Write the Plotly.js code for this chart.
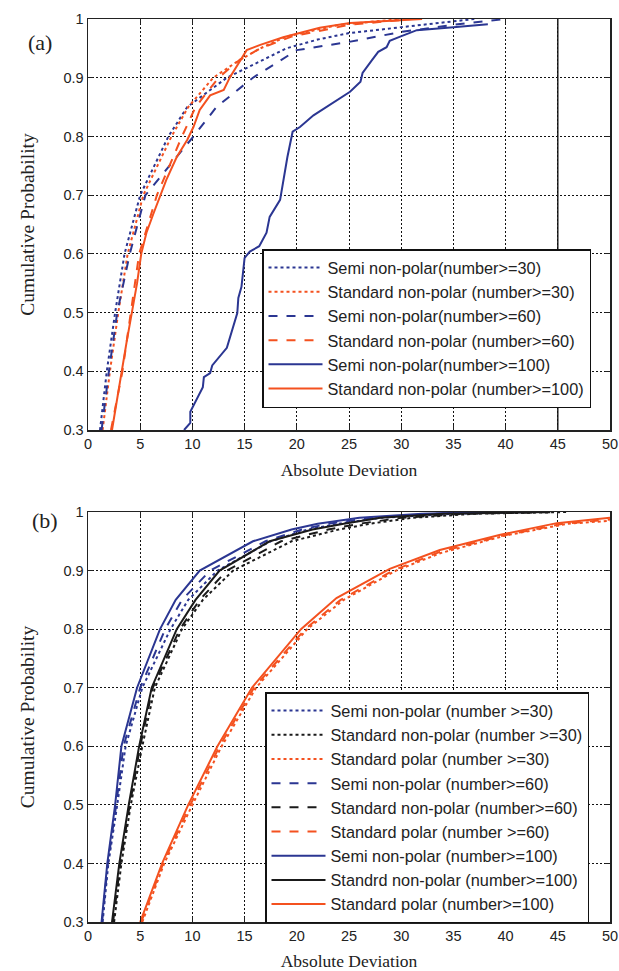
<!DOCTYPE html>
<html>
<head>
<meta charset="utf-8">
<script src="https://cdn.plot.ly/plotly-3.0.1.min.js"></script>
<style>html,body{margin:0;padding:0;background:#fff}#chart{width:619px;height:971px}</style>
</head>
<body>
<div id="chart"></div>
<script>
// ---------- Panel (a) data ----------
const aSemi30X = [1.15,1.8,2.6,3.5,5.0,7.7,9.5,13.3,19,22,25,30,34,37];
const aSemi30Y = [0.3,0.4,0.5,0.6,0.7,0.8,0.85,0.9,0.95,0.965,0.976,0.986,0.995,1];
const aStd30X  = [1.4,2.1,2.9,3.8,5.3,8.0,9.6,12.0,14.5,16.5,19,24,30];
const aStd30Y  = [0.3,0.4,0.5,0.6,0.7,0.8,0.85,0.9,0.93,0.95,0.97,0.99,1];
const aSemi60X = [1.3,2.0,2.8,4.0,5.5,10.1,12.3,15.8,20,25,30,35,40];
const aSemi60Y = [0.3,0.4,0.5,0.6,0.7,0.8,0.85,0.9,0.947,0.961,0.978,0.99,1];
const aStd60X  = [2.2,3.3,4.1,4.9,6.6,9.0,10.3,12.5,14.5,16.5,19.5,25,31];
const aStd60Y  = [0.3,0.4,0.5,0.6,0.7,0.8,0.85,0.9,0.93,0.95,0.97,0.99,1];
const aSemi100X = [9.2,9.8,9.8,10.4,11.0,11.1,11.7,11.9,13.3,14.3,14.4,14.7,15.0,15.5,16.4,17.1,17.4,18.4,18.7,19.1,19.6,20.3,21.6,23.2,25.1,26.1,26.3,27.2,27.8,28.6,28.9,29.9,31.5,35,38.3];
const aSemi100Y = [0.3,0.312,0.331,0.351,0.373,0.39,0.397,0.41,0.44,0.499,0.525,0.544,0.593,0.604,0.613,0.636,0.663,0.692,0.726,0.765,0.808,0.816,0.836,0.854,0.876,0.893,0.908,0.93,0.944,0.952,0.963,0.97,0.981,0.986,0.991];
const aStd100X = [2.3,3.2,3.7,4.2,4.7,5.1,5.6,6.3,6.9,7.5,8.5,9.5,10.1,10.7,11.7,13.0,13.6,14.6,15.2,16.5,18.7,22.2,25.1,29.9,32];
const aStd100Y = [0.3,0.4,0.45,0.5,0.55,0.6,0.636,0.67,0.697,0.726,0.765,0.794,0.816,0.845,0.87,0.879,0.901,0.93,0.947,0.956,0.969,0.985,0.993,0.998,1];

// ---------- Panel (b) data ----------
const bLevels = [0.3,0.4,0.5,0.6,0.7,0.8,0.85,0.9,0.95,0.97,0.98,0.99,0.997,1];
const bSemi30X  = [1.4,1.95,2.8,3.6,5.2,7.9,9.6,12.4,17.5,21,24,28,35,42];
const bStd30X   = [2.5,3.2,4.1,5.2,6.4,9.0,11,13.9,19.5,24,27,31,37,46];
const bSemi60X  = [1.35,1.9,2.7,3.4,5.0,7.4,9.0,11.7,17,20.5,23,27,33,40];
const bStd60X   = [2.4,3.1,4.0,5.0,6.2,8.8,10.7,13.3,18.5,23,26,30,36,45];
const bSemi100X = [1.3,1.85,2.6,3.2,4.7,6.9,8.4,10.7,15.8,19.5,22,26,32,38];
const bStd100X  = [2.3,3.0,3.9,4.9,6.1,8.5,10.3,12.6,17.4,21.5,24.5,28,34,44];
const bPol30X   = [5.2,7.3,10.0,12.8,16.1,21.0,24.5,29.5,33.8,40,46,50];
const bPol30Y   = [0.3,0.4,0.5,0.6,0.7,0.8,0.85,0.9,0.93,0.96,0.98,0.985];
const bPol60X   = [5.1,7.2,9.8,12.6,15.9,20.8,24.2,29.2,33.7,39.8,45.5,50];
const bPol60Y   = [0.3,0.4,0.5,0.6,0.7,0.8,0.85,0.9,0.932,0.96,0.98,0.987];
const bPol100X  = [5.0,7.1,9.6,12.4,15.7,20.4,23.8,28.9,33.7,39.5,44.9,50];
const bPol100Y  = [0.3,0.4,0.5,0.6,0.7,0.8,0.853,0.903,0.935,0.961,0.981,0.99];

const xTicks = [0,5,10,15,20,25,30,35,40,45,50];
const yTicks = [0.3,0.4,0.5,0.6,0.7,0.8,0.9,1];
const yTickText = ['0.3','0.4','0.5','0.6','0.7','0.8','0.9','1'];

const BLUE = '#2b3692', ORANGE = '#f4511f', BLACK = '#1a1a1a';

function tr(x, y, name, color, dash, xa, ya, leg) {
  return {x: x, y: y, name: name, type: 'scatter', mode: 'lines',
    line: {color: color, dash: dash, width: 2}, xaxis: xa, yaxis: ya, legend: leg};
}

const data = [
  tr(aSemi30X, aSemi30Y, 'Semi non-polar(number>=30)', BLUE, 'dot', 'x', 'y', 'legend'),
  tr(aStd30X, aStd30Y, 'Standard non-polar (number>=30)', ORANGE, 'dot', 'x', 'y', 'legend'),
  tr(aSemi60X, aSemi60Y, 'Semi non-polar(number>=60)', BLUE, 'dash', 'x', 'y', 'legend'),
  tr(aStd60X, aStd60Y, 'Standard non-polar (number>=60)', ORANGE, 'dash', 'x', 'y', 'legend'),
  tr(aSemi100X, aSemi100Y, 'Semi non-polar(number>=100)', BLUE, 'solid', 'x', 'y', 'legend'),
  tr(aStd100X, aStd100Y, 'Standard non-polar (number>=100)', ORANGE, 'solid', 'x', 'y', 'legend'),

  tr(bSemi30X, bLevels, 'Semi non-polar (number >=30)', BLUE, 'dot', 'x2', 'y2', 'legend2'),
  tr(bStd30X, bLevels, 'Standard non-polar (number >=30)', BLACK, 'dot', 'x2', 'y2', 'legend2'),
  tr(bPol30X, bPol30Y, 'Standard polar (number >=30)', ORANGE, 'dot', 'x2', 'y2', 'legend2'),
  tr(bSemi60X, bLevels, 'Semi non-polar (number>=60)', BLUE, 'dash', 'x2', 'y2', 'legend2'),
  tr(bStd60X, bLevels, 'Standard non-polar (number>=60)', BLACK, 'dash', 'x2', 'y2', 'legend2'),
  tr(bPol60X, bPol60Y, 'Standard polar (number >=60)', ORANGE, 'dash', 'x2', 'y2', 'legend2'),
  tr(bSemi100X, bLevels, 'Semi non-polar (number>=100)', BLUE, 'solid', 'x2', 'y2', 'legend2'),
  tr(bStd100X, bLevels, 'Standrd non-polar (number>=100)', BLACK, 'solid', 'x2', 'y2', 'legend2'),
  tr(bPol100X, bPol100Y, 'Standard polar (number>=100)', ORANGE, 'solid', 'x2', 'y2', 'legend2')
];

const tickFont = {family: 'Liberation Sans, Arial, sans-serif', size: 14.5, color: '#222'};
const xTitleFont = {family: 'Liberation Serif, Times New Roman, serif', size: 17.5, color: '#222'};
const yTitleFont = {family: 'Liberation Serif, Times New Roman, serif', size: 19.5, color: '#222'};

function xaxis(anchor) {
  return {domain: [88/619, 610/619], range: [0, 50], anchor: anchor,
    tickvals: xTicks, ticks: 'inside', ticklen: 5, tickcolor: '#222', tickfont: tickFont,
    showline: true, linecolor: '#222', linewidth: 1.5, mirror: 'ticks',
    showgrid: true, gridcolor: '#111', griddash: '2px,2px', gridwidth: 1, zeroline: false,
    title: {text: 'Absolute Deviation', font: xTitleFont, standoff: 13}};
}
function yaxis(anchor, dom) {
  return {domain: dom, range: [0.3, 1], anchor: anchor,
    tickvals: yTicks, ticktext: yTickText, ticks: 'inside', ticklen: 5, tickcolor: '#222', tickfont: tickFont,
    showline: true, linecolor: '#222', linewidth: 1.5, mirror: 'ticks',
    showgrid: true, gridcolor: '#111', griddash: '2px,2px', gridwidth: 1, zeroline: false,
    title: {text: 'Cumulative Probability', font: yTitleFont, standoff: 23}};
}

const legendFont = {family: 'Liberation Sans, Arial, sans-serif', size: 16.3, color: '#222'};

const layout = {
  width: 619, height: 971,
  margin: {l: 0, r: 0, t: 0, b: 0},
  paper_bgcolor: '#fff', plot_bgcolor: '#fff',
  showlegend: true,
  xaxis: xaxis('y'),
  yaxis: yaxis('x', [1 - 430/971, 1 - 19/971]),
  xaxis2: xaxis('y2'),
  yaxis2: yaxis('x2', [1 - 922/971, 1 - 512/971]),
  legend: {x: 262/619, y: 1 - 249/971, xanchor: 'left', yanchor: 'top', itemwidth: 54,
    bgcolor: '#fff', bordercolor: '#111', borderwidth: 1.5, font: legendFont, tracegroupgap: 0},
  legend2: {x: 265/619, y: 1 - 692/971, xanchor: 'left', yanchor: 'top', itemwidth: 54,
    bgcolor: '#fff', bordercolor: '#111', borderwidth: 1.5, font: legendFont, tracegroupgap: 0},
  shapes: [
    {type: 'line', xref: 'x', yref: 'y domain', x0: 45, x1: 45, y0: 0, y1: 1,
     line: {color: '#222', width: 1.5}, layer: 'below'}
  ],
  annotations: [
    {text: '(a)', xref: 'paper', yref: 'paper', x: 26/619, y: 1 - 28/971, showarrow: false,
     font: {family: 'Liberation Serif, Times New Roman, serif', size: 22, color: '#222'}},
    {text: '(b)', xref: 'paper', yref: 'paper', x: 30/619, y: 1 - 520/971, showarrow: false,
     font: {family: 'Liberation Serif, Times New Roman, serif', size: 22, color: '#222'}}
  ]
};

Plotly.newPlot('chart', data, layout, {displayModeBar: false, staticPlot: true});
</script>
</body>
</html>
